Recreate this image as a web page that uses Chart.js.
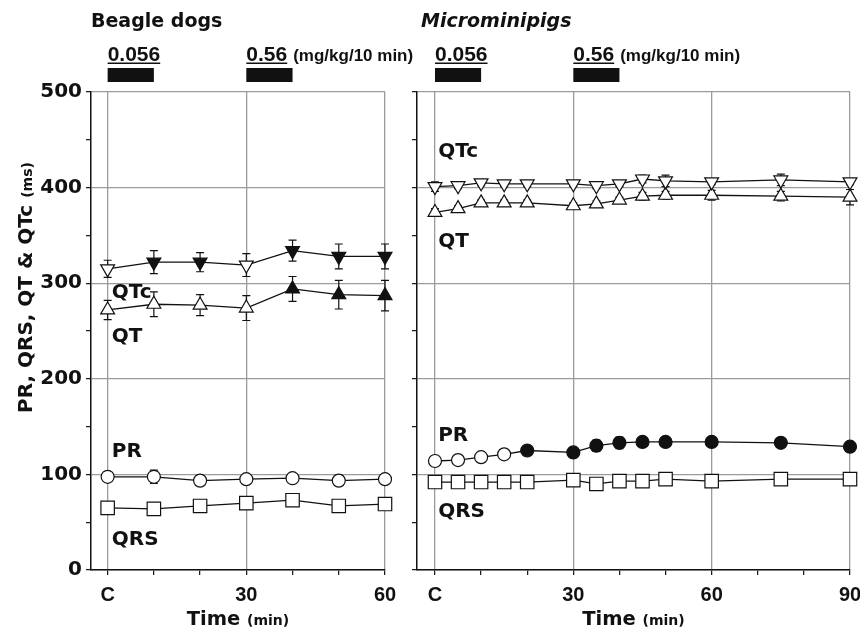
<!DOCTYPE html>
<html>
<head>
<meta charset="utf-8">
<script src="https://cdn.jsdelivr.net/npm/chart.js@4.4.1/dist/chart.umd.min.js"></script>
<style>
  html, body { margin: 0; padding: 0; background: #fff; overflow: hidden; }
  #wrap { position: relative; width: 860px; height: 631px; overflow: hidden; }
  canvas { position: absolute; top: 0; }
  #dogs { left: 0; }
  #pigs { left: 405px; }
</style>
</head>
<body>
<div id="wrap">
  <canvas id="dogs" width="418" height="631"></canvas>
  <canvas id="pigs" width="470" height="631"></canvas>
</div>
<script>
// Beagle dogs: mean and error per time point (C = control)
const dogTimes = [0, 10, 20, 30, 40, 50, 60];
const dogQTc = [315, 322, 322, 319, 334, 328, 328];
const dogQTcErr = [9, 12, 10, 12, 11, 13, 13];
const dogQTcSig = [0, 1, 1, 0, 1, 1, 1];
const dogQT = [272, 278, 277, 274, 294, 288, 287];
const dogQTErr = [10, 13, 11, 13, 13, 15, 16];
const dogQTSig = [0, 0, 0, 0, 1, 1, 1];
const dogPR = [97.5, 97.5, 93.5, 95, 96, 93.5, 95];
const dogPRErr = [3, 7, 5, 3, 3, 3, 3];
const dogPRSig = [0, 0, 0, 0, 0, 0, 0];
const dogQRS = [65, 64, 67, 70, 73, 67, 69];
const dogQRSErr = [5, 3, 3, 6, 3, 3, 5];
const dogQRSSig = [0, 0, 0, 0, 0, 0, 0];

// Microminipigs
const pigTimes = [0, 5, 10, 15, 20, 30, 35, 40, 45, 50, 60, 75, 90];
const pigQTc = [401, 402, 405, 404, 404, 404, 402, 404, 409, 407, 406, 408, 406];
const pigQTcErr = [5, 3, 3, 3, 3, 3, 3, 3, 4, 6, 3, 6, 3];
const pigQTcSig = [0, 0, 0, 0, 0, 0, 0, 0, 0, 0, 0, 0, 0];
const pigQT = [374, 378, 384, 384, 384, 381, 383, 387, 391, 392, 392, 391, 390];
const pigQTErr = [4, 3, 3, 3, 3, 3, 3, 3, 4, 4, 5, 5, 8];
const pigQTSig = [0, 0, 0, 0, 0, 0, 0, 0, 0, 0, 0, 0, 0];
const pigPR = [114, 115, 118, 121, 125, 123, 130, 133, 134, 134, 134, 133, 129];
const pigPRErr = [3, 3, 3, 3, 3, 4, 6, 6, 3, 3, 3, 3, 3];
const pigPRSig = [0, 0, 0, 0, 1, 1, 1, 1, 1, 1, 1, 1, 1];
const pigQRS = [92, 92, 92, 92, 92, 94, 90, 93, 93, 95, 93, 95, 95];
const pigQRSErr = [3, 3, 3, 3, 3, 4, 3, 3, 3, 3, 3, 3, 4];
const pigQRSSig = [0, 0, 0, 0, 0, 0, 0, 0, 0, 0, 0, 0, 0];

// dosing (10 min infusions) and axis labels
const doseStarts = [0, 30];
const doseLength = 10;
const doseLabels = ['0.056', '0.56'];
const doseUnit = '(mg/kg/10 min)';
const dogLabelledTimes = [0, 30, 60];
const pigLabelledTimes = [0, 30, 60, 90];
const yLabelledStep = 100;

const ink = '#111';
const gridGrey = '#9b9b9b';
const bold = fam => ({ family: fam, weight: 'bold' });

function series(times, values, errs, sig, style, rotation, radius) {
  return {
    data: times.map((t, i) => ({ x: t, y: values[i] })),
    errors: errs,
    borderColor: ink,
    borderWidth: 1.3,
    pointStyle: style,
    pointRotation: rotation,
    pointRadius: radius,
    pointBorderColor: ink,
    pointBorderWidth: 1.2,
    pointBackgroundColor: sig.map(s => s ? ink : '#fff'),
    tension: 0,
    clip: false
  };
}

const errorBars = {
  id: 'errorBars',
  beforeDatasetsDraw(chart) {
    const ctx = chart.ctx, y = chart.scales.y;
    ctx.save();
    ctx.strokeStyle = ink;
    ctx.lineWidth = 1.2;
    chart.data.datasets.forEach((ds, i) => {
      chart.getDatasetMeta(i).data.forEach((pt, j) => {
        const v = ds.data[j].y, e = ds.errors[j];
        const top = y.getPixelForValue(v + e), bot = y.getPixelForValue(v - e);
        ctx.beginPath();
        ctx.moveTo(pt.x, top); ctx.lineTo(pt.x, bot);
        ctx.moveTo(pt.x - 4, top); ctx.lineTo(pt.x + 4, top);
        ctx.moveTo(pt.x - 4, bot); ctx.lineTo(pt.x + 4, bot);
        ctx.stroke();
      });
    });
    ctx.restore();
  }
};

const decor = {
  id: 'decor',
  afterDraw(chart, args, o) {
    const ctx = chart.ctx, x = chart.scales.x, y = chart.scales.y, area = chart.chartArea;
    ctx.save();
    ctx.fillStyle = ink;
    ctx.textAlign = 'left';
    ctx.textBaseline = 'alphabetic';

    ctx.font = (o.italic ? 'italic ' : '') + 'bold 19px "DejaVu Sans"';
    ctx.fillText(o.title, o.titleX, 27);

    // infusion bars with dose labels
    doseStarts.forEach((t, i) => {
      const x0 = x.getPixelForValue(t), x1 = x.getPixelForValue(t + doseLength);
      ctx.fillRect(x0, 68, x1 - x0, 14);
      ctx.font = 'bold 21px "Liberation Sans"';
      ctx.fillText(doseLabels[i], x0, 61);
      const w = ctx.measureText(doseLabels[i]).width;
      ctx.fillRect(x0, 62.5, w, 1.5);
      if (i === doseStarts.length - 1) {
        ctx.font = 'bold 17px "Liberation Sans"';
        ctx.fillText(doseUnit, x0 + w + 6, 61);
      }
    });

    // series names
    ctx.font = 'bold 20px "DejaVu Sans"';
    o.names.forEach(n => ctx.fillText(n.text, x.getPixelForValue(n.x), y.getPixelForValue(n.y)));

    // x axis title
    ctx.font = 'bold 19.5px "DejaVu Sans"';
    const wT = ctx.measureText('Time ').width;
    ctx.font = 'bold 14px "DejaVu Sans"';
    const wM = ctx.measureText('(min)').width;
    const cx = (area.left + area.right) / 2 - (wT + wM) / 2;
    ctx.font = 'bold 19.5px "DejaVu Sans"';
    ctx.fillText('Time ', cx, 625);
    ctx.font = 'bold 14px "DejaVu Sans"';
    ctx.fillText('(min)', cx + wT, 625);

    // y axis title
    if (o.yTitle) {
      ctx.translate(32, 413);
      ctx.rotate(-Math.PI / 2);
      ctx.font = 'bold 20px "DejaVu Sans"';
      ctx.fillText('PR, QRS, QT & QTc', 0, 0);
      const w = ctx.measureText('PR, QRS, QT & QTc ').width;
      ctx.font = 'bold 14px "DejaVu Sans"';
      ctx.fillText('(ms)', w, 0);
    }
    ctx.restore();
  }
};

function scales(xMin, xMax, labelled, yWidth, showY) {
  return {
    x: {
      type: 'linear',
      min: xMin,
      max: xMax,
      afterBuildTicks: s => {
        const t = [];
        for (let v = 0; v <= xMax; v += 10) t.push({ value: v });
        s.ticks = t;
      },
      afterFit: s => { s.height = 61; },
      grid: {
        color: c => labelled.includes(c.tick.value) ? gridGrey : 'rgba(0,0,0,0)',
        lineWidth: 1.3,
        tickColor: ink,
        tickLength: 5,
        tickWidth: 1.2
      },
      border: { color: ink, width: 1.5 },
      ticks: {
        font: { ...bold('Liberation Sans'), size: 20 },
        color: ink,
        padding: 8,
        maxRotation: 0,
        autoSkip: false,
        callback: v => v === 0 ? 'C' : (labelled.includes(v) ? String(v) : '')
      }
    },
    y: {
      min: 0,
      max: 500,
      afterFit: s => { s.width = yWidth; },
      grid: {
        color: c => c.tick.value % yLabelledStep === 0 ? gridGrey : 'rgba(0,0,0,0)',
        lineWidth: 1.3,
        tickColor: ink,
        tickLength: 5,
        tickWidth: 1.2
      },
      border: { color: ink, width: 1.5 },
      ticks: {
        display: showY,
        stepSize: 50,
        autoSkip: false,
        font: { ...bold('DejaVu Sans'), size: 20 },
        color: ink,
        padding: 4,
        callback: v => v % yLabelledStep === 0 ? String(v) : ''
      }
    }
  };
}

function panel(id, datasets, sc, padRight, decorOpts) {
  new Chart(document.getElementById(id), {
    type: 'line',
    data: { datasets },
    options: {
      responsive: false,
      animation: false,
      events: [],
      layout: { padding: { left: 0, top: 92, right: padRight, bottom: 0 } },
      scales: sc,
      plugins: { legend: { display: false }, tooltip: { enabled: false }, decor: decorOpts }
    },
    plugins: [errorBars, decor]
  });
}

panel('dogs', [
  series(dogTimes, dogQTc, dogQTcErr, dogQTcSig, 'triangle', 180, 8),
  series(dogTimes, dogQT, dogQTErr, dogQTSig, 'triangle', 0, 8),
  series(dogTimes, dogPR, dogPRErr, dogPRSig, 'circle', 0, 6.5),
  series(dogTimes, dogQRS, dogQRSErr, dogQRSSig, 'rect', 0, 9.5)
], scales(-3.6, 60, dogLabelledTimes, 91, true), 33, {
  title: 'Beagle dogs', italic: false, titleX: 91, yTitle: true,
  names: [
    { text: 'QTc', x: 0.9, y: 284 },
    { text: 'QT', x: 0.9, y: 238 },
    { text: 'PR', x: 0.9, y: 118 },
    { text: 'QRS', x: 0.9, y: 26 }
  ]
});

panel('pigs', [
  series(pigTimes, pigQTc, pigQTcErr, pigQTcSig, 'triangle', 180, 8),
  series(pigTimes, pigQT, pigQTErr, pigQTSig, 'triangle', 0, 8),
  series(pigTimes, pigPR, pigPRErr, pigPRSig, 'circle', 0, 6.5),
  series(pigTimes, pigQRS, pigQRSErr, pigQRSSig, 'rect', 0, 9.5)
], scales(-3.9, 90, pigLabelledTimes, 12, false), 25, {
  title: 'Microminipigs', italic: true, titleX: 16, yTitle: false,
  names: [
    { text: 'QTc', x: 0.7, y: 432 },
    { text: 'QT', x: 0.7, y: 338 },
    { text: 'PR', x: 0.7, y: 135 },
    { text: 'QRS', x: 0.7, y: 55 }
  ]
});
</script>
</body>
</html>
